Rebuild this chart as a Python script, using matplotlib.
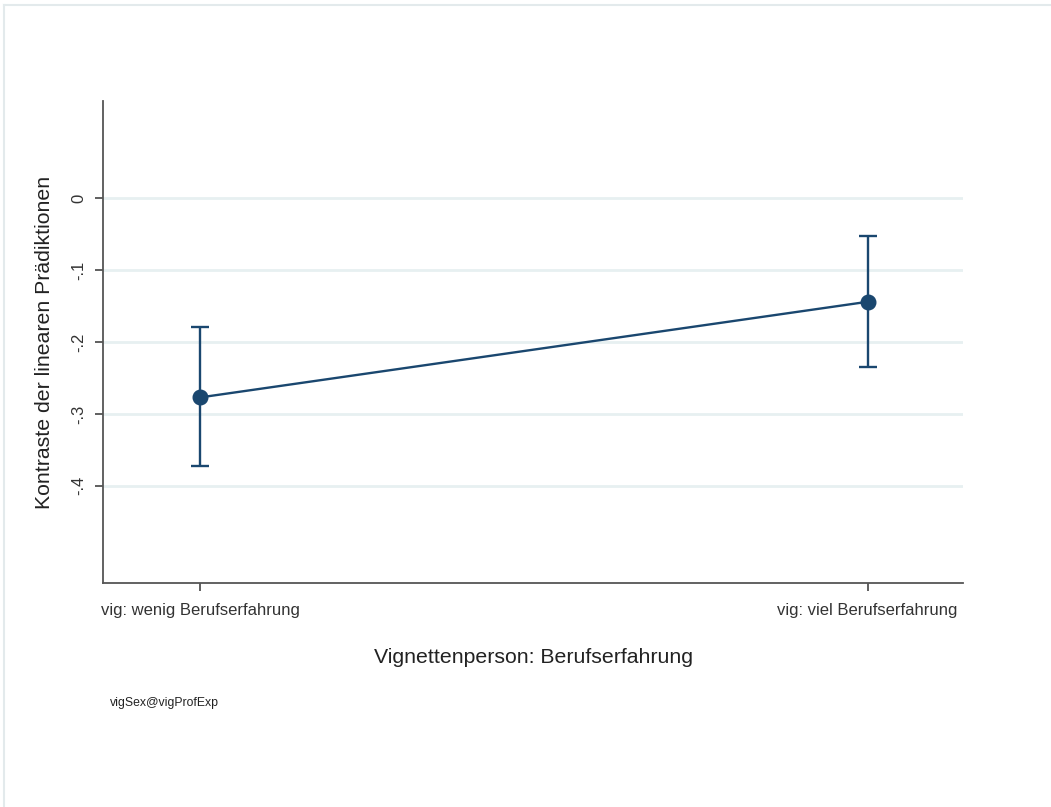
import matplotlib.pyplot as plt
from matplotlib.lines import Line2D

# marginsplot: contrasts of linear predictions
categories = ['vig: wenig Berufserfahrung', 'vig: viel Berufserfahrung']
estimates = [-0.277, -0.144]
ci_low = [-0.372, -0.235]
ci_high = [-0.179, -0.052]
yticks = [0, -0.1, -0.2, -0.3, -0.4]
ytick_labels = ['0', '-.1', '-.2', '-.3', '-.4']

navy = '#1a476f'
plt.rcParams['font.family'] = ['Liberation Sans', 'DejaVu Sans']

fig = plt.figure(figsize=(10.51, 8.07), dpi=100)
ax = fig.add_axes([0.0983, 0.2772, 0.818, 0.5977])

x = list(range(len(categories)))
err = [[e - l for e, l in zip(estimates, ci_low)],
       [h - e for e, h in zip(estimates, ci_high)]]
ax.errorbar(x, estimates, yerr=err, color=navy, lw=1.7, elinewidth=1.7,
            capsize=6.5, capthick=1.7, marker='o', markersize=10.5, zorder=3)

ax.set_xlim(-0.145, 1.143)
ax.set_ylim(-0.5355, 0.1353)
ax.set_yticks(yticks)
ax.set_yticklabels(ytick_labels, rotation=90, va='center')
ax.set_xticks(x)
ax.set_xticklabels(categories)
ax.grid(axis='y', color='#e7f0f1', lw=2)
ax.set_axisbelow(True)

for s in ['top', 'right']:
    ax.spines[s].set_visible(False)
for s in ['left', 'bottom']:
    ax.spines[s].set_color('#555555')
    ax.spines[s].set_linewidth(1.3)
ax.tick_params(colors='#444444', labelcolor='#333333', length=6, width=1.2)
ax.tick_params(axis='x', labelsize=12, pad=8)
ax.tick_params(axis='y', labelsize=12, pad=6)

ax.set_xlabel('Vignettenperson: Berufserfahrung', fontsize=15.3, color='#222222', labelpad=22)
ax.set_ylabel('Kontraste der linearen Prädiktionen', fontsize=15.3, color='#222222', labelpad=13)

fig.text(110 / 1051, 1 - 703 / 807, 'vigSex@vigProfExp', fontsize=8.8, color='#222222', va='center')

# light frame at top and left
fig.add_artist(Line2D([4 / 1051, 1], [1 - 5 / 807, 1 - 5 / 807], color='#e3eaec', lw=1.5))
fig.add_artist(Line2D([4 / 1051, 4 / 1051], [0, 1 - 5 / 807], color='#e3eaec', lw=1.5))

fig.savefig('out.png', dpi=100)
